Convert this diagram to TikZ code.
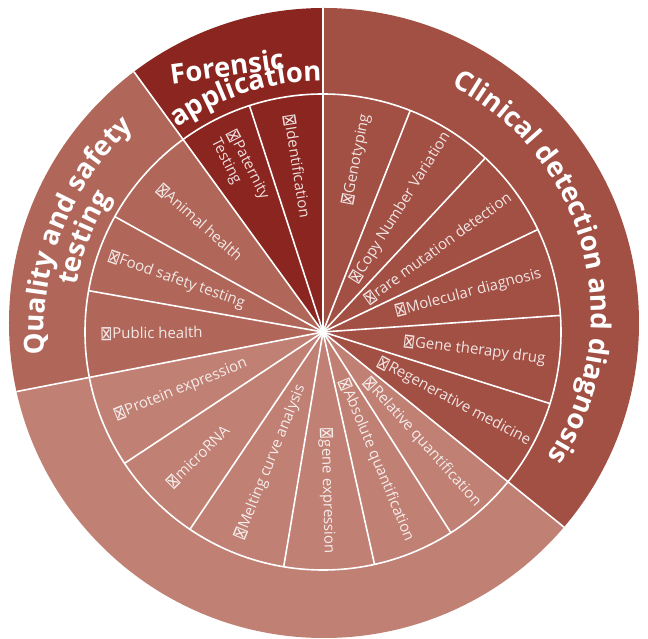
\documentclass[tikz,border=0pt]{standalone}
\usepackage{fontspec}
\usepackage{graphicx}
\newfontfamily\labelfont{Open Sans}
\newfontfamily\headfont{Open Sans}
\newfontfamily\symfont{DejaVu Sans}
\usetikzlibrary{decorations.text}
\definecolor{forensic}{HTML}{8B2520}
\definecolor{clinical}{HTML}{A24F44}
\definecolor{quality}{HTML}{B0675A}
\definecolor{assay}{HTML}{C08074}
\newcommand\xbox{\raisebox{-1.5pt}{\scalebox{0.9}[1.25]{\symfont\fontsize{16}{18}\selectfont ⊠}}}
\newcommand\headsize{\headfont\bfseries\fontsize{27.5}{30}\selectfont}
\tikzset{
  wedgelabel/.style={font=\labelfont\fontsize{15}{18}\selectfont, text=white, text opacity=0.85, inner sep=0pt, align=left},
  outlabel/.style={wedgelabel, anchor=east, rotate=#1},
  inlabel/.style={wedgelabel, anchor=west, rotate=#1-180},
  spoke/.style={white, line width=1.6},
  headnode/.style={font=\headsize, text=white, inner sep=0pt}
}
\begin{document}
\begin{tikzpicture}[x=1pt,y=1pt]
\useasboundingbox (-323,-307) rectangle (325,332);
\begin{scope}
  \clip (1,9) circle[radius=315];
  \fill[clinical] (0,0) -- (-39:500) arc[start angle=-39, end angle=90, radius=500] -- cycle;
  \fill[forensic] (0,0) -- (90:500) arc[start angle=90, end angle=126, radius=500] -- cycle;
  \fill[quality] (0,0) -- (126:500) arc[start angle=126, end angle=191, radius=500] -- cycle;
  \fill[assay] (0,0) -- (191:500) arc[start angle=191, end angle=321, radius=500] -- cycle;
  \foreach \a in {90,126,191,321}
    \draw[spoke] (0,0) -- (\a:500);
\end{scope}
\foreach \a in {108,151,170,213.5,236,260.5,282.5,302.5,68.5,47,25.5,4,-17.5}
  \draw[spoke] (0,0) -- (\a:238);
\draw[spoke] (0,0) circle[radius=238];

\node[inlabel=99] (ident) at (99:220) {\xbox Identification};
\node[inlabel=117] (paternity) at (117:221) {\xbox Paternity\\Testing};
\node[inlabel=138.5] (animal) at (138.5:220) {\xbox Animal health};
\node[inlabel=160.5] (food) at (160.5:228) {\xbox Food safety testing};
\node[inlabel=180.5] (public) at (180.5:223) {\xbox Public health};
\node[inlabel=202] (protein) at (202:225) {\xbox Protein expression};
\node[inlabel=225] (mirna) at (225:218) {\xbox microRNA};
\node[inlabel=248] (melting) at (248:224) {\xbox Melting curve analysis};
\node[outlabel=-88.5] (geneexp) at (-88.5:222) {\xbox gene expression};
\node[outlabel=-67.5] (absolute) at (-67.5:226) {\xbox Absolute quantification};
\node[outlabel=-48] (relative) at (-48:232) {\xbox Relative quantification};
\node[outlabel=-28] (regen) at (-28:234) {\xbox Regenerative medicine};
\node[outlabel=-7] (therapy) at (-7:224) {\xbox Gene therapy drug};
\node[outlabel=15] (molecular) at (15:226) {\xbox Molecular diagnosis};
\node[outlabel=36] (rare) at (36:231) {\xbox rare mutation detection};
\node[outlabel=58] (cnv) at (58:234) {\xbox Copy Number Variation};
\node[outlabel=79] (genotyping) at (79:222) {\xbox Genotyping};

\node[headnode, rotate=8] (forensichead) at (-96,266) {Forensic};
\path[decorate, decoration={text along path, text align=center, text color=white,
  text={|\headsize|application}}] (167.9:251) arc[start angle=167.9, end angle=47.9, radius=251];
\path[decorate, decoration={text along path, text align=center, text color=white,
  text={|\headsize|Quality and safety}}] (218.7:279) arc[start angle=218.7, end angle=98.7, radius=279];
\path[decorate, decoration={text along path, text align=center, text color=white,
  text={|\headsize|testing}}] (218.5:251) arc[start angle=218.5, end angle=98.5, radius=251];
\path[decorate, decoration={text along path, text align=center, text color=white,
  text={|\headsize|Clinical detection and diagnosis}}] ([shift={(12,18)}]94.5:256) arc[start angle=94.5, end angle=-65.5, radius=256];
\end{tikzpicture}
\end{document}
